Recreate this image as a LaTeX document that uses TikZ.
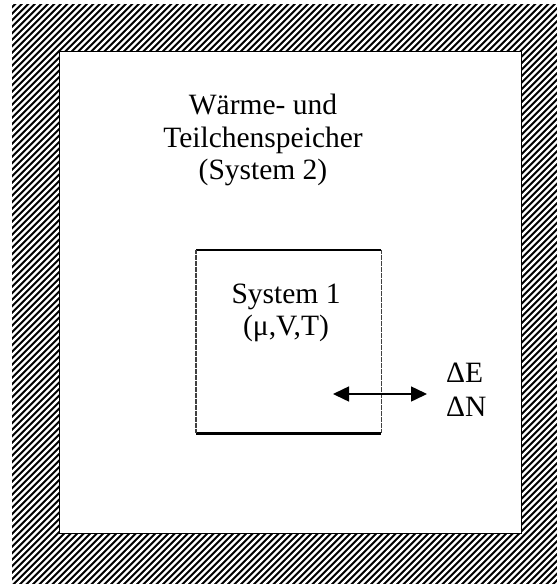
\documentclass[tikz,border=0pt]{standalone}
\usepackage{fontspec}
\setmainfont{Liberation Serif}
\usetikzlibrary{arrows.meta, positioning}

\tikzset{
  label text/.style={font=\fontsize{29.5}{32.5}\selectfont, inner sep=0pt, align=center},
  wall/.style={line width=2.6pt},
  dotwall/.style={line width=1.4pt, dash pattern=on 0.6pt off 0.6pt, black!75},
  exchange/.style={line width=1.5pt, {Triangle[length=16pt,width=15pt]}-{Triangle[length=16pt,width=15pt]}}
}

\begin{document}
\begin{tikzpicture}[x=1pt, y=-1pt]
  \useasboundingbox (0,0) rectangle (557,586);
  % Hatched reservoir wall
  \fill[black] (12,4) rectangle (557,584);
  \begin{scope}
    \clip (12,4) rectangle (557,584);
    \foreach \i in {-600,-593.5,...,570}
      \draw[white, line width=2.3pt] (\i,590) -- ++(600,-600);
  \end{scope}
  % Reservoir interior
  \filldraw[fill=white, draw=black, line width=1pt] (59,52) rectangle (521,533);
  \node[label text] (res) at (263,140) {Wärme- und\\Teilchenspeicher\\(System 2)};
  % System 1
  \node[minimum width=185pt, minimum height=183pt, inner sep=0pt] (sys1) at (288.5,341.5) {};
  \draw[wall] (sys1.north west) -- (sys1.north east);
  \draw[wall] (sys1.south west) -- (sys1.south east);
  \draw[dotwall] (sys1.north west) -- (sys1.south west);
  \draw[dotwall] (sys1.north east) -- (sys1.south east);
  \node[label text] (sys1txt) at (286,313) {System 1\\(μ,V,T)};
  % Exchange of energy and particles
  \coordinate (inL) at (333,394);
  \coordinate (outR) at (427,394);
  \draw[exchange] (inL) -- (outR);
  \node[label text, align=left, anchor=west, font=\fontsize{29.5}{34}\selectfont] (flux) at (446,390) {ΔE\\ΔN};
\end{tikzpicture}
\end{document}
